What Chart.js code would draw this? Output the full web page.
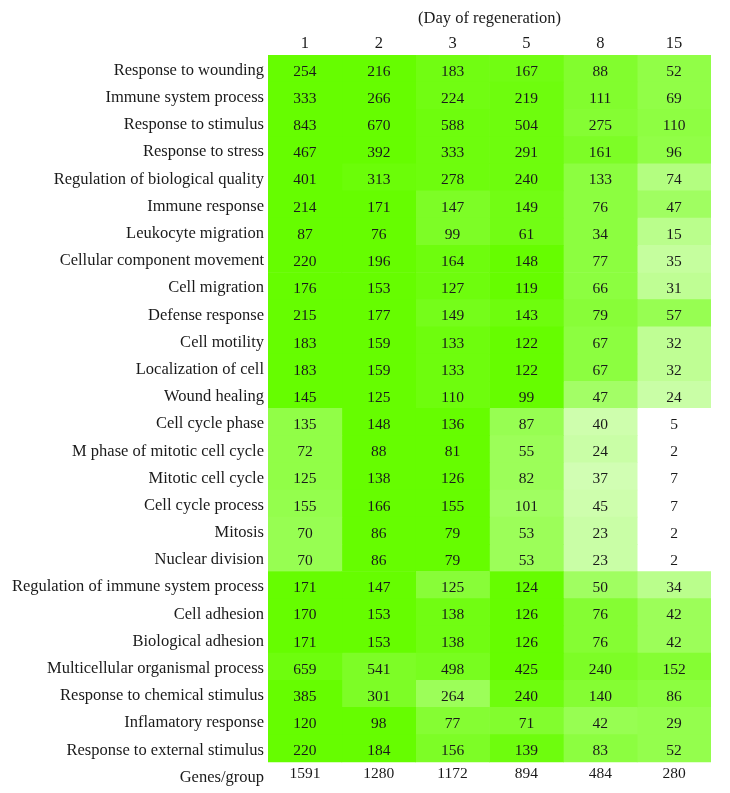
<!DOCTYPE html>
<html>
<head>
<meta charset="utf-8">
<script src="https://cdn.jsdelivr.net/npm/chart.js@4/dist/chart.umd.min.js"></script>
<style>
  html, body { margin: 0; padding: 0; background: #fff; }
  #wrap { width: 730px; height: 793px; position: relative; }
</style>
</head>
<body>
<div id="wrap"><canvas id="chart_canvas"></canvas></div>
<script>
const days = ["1", "2", "3", "5", "8", "15"];

const categories = [
  "Response to wounding", "Immune system process", "Response to stimulus",
  "Response to stress", "Regulation of biological quality", "Immune response",
  "Leukocyte migration", "Cellular component movement", "Cell migration",
  "Defense response", "Cell motility", "Localization of cell", "Wound healing",
  "Cell cycle phase", "M phase of mitotic cell cycle", "Mitotic cell cycle",
  "Cell cycle process", "Mitosis", "Nuclear division",
  "Regulation of immune system process", "Cell adhesion", "Biological adhesion",
  "Multicellular organismal process", "Response to chemical stimulus",
  "Inflamatory response", "Response to external stimulus"
];

// gene counts per category, one array per day
const day1  = [254, 333, 843, 467, 401, 214, 87, 220, 176, 215, 183, 183, 145, 135, 72, 125, 155, 70, 70, 171, 170, 171, 659, 385, 120, 220];
const day2  = [216, 266, 670, 392, 313, 171, 76, 196, 153, 177, 159, 159, 125, 148, 88, 138, 166, 86, 86, 147, 153, 153, 541, 301, 98, 184];
const day3  = [183, 224, 588, 333, 278, 147, 99, 164, 127, 149, 133, 133, 110, 136, 81, 126, 155, 79, 79, 125, 138, 138, 498, 264, 77, 156];
const day5  = [167, 219, 504, 291, 240, 149, 61, 148, 119, 143, 122, 122, 99, 87, 55, 82, 101, 53, 53, 124, 126, 126, 425, 240, 71, 139];
const day8  = [88, 111, 275, 161, 133, 76, 34, 77, 66, 79, 67, 67, 47, 40, 24, 37, 45, 23, 23, 50, 76, 76, 240, 140, 42, 83];
const day15 = [52, 69, 110, 96, 74, 47, 15, 35, 31, 57, 32, 32, 24, 5, 2, 7, 7, 2, 2, 34, 42, 42, 152, 86, 29, 52];

const genesPerGroup = [1591, 1280, 1172, 894, 484, 280];

// enrichment strength read from the cell shading (0 = white, 1 = full green)
const level1  = [1, 1, 1, 1, 1, 1, 1, 1, 1, 1, 1, 1, 1, 0.72, 0.72, 0.72, 0.7, 0.68, 0.68, 1, 1, 1, 0.95, 1, 1, 1];
const level2  = [1, 1, 1, 1, 0.97, 1, 1, 1, 1, 1, 1, 1, 1, 1, 1, 1, 1, 1, 1, 1, 1, 1, 0.85, 0.85, 1, 1];
const level3  = [0.93, 0.93, 0.95, 0.95, 0.95, 0.85, 0.85, 0.95, 0.95, 0.9, 0.95, 0.95, 0.95, 1, 1, 1, 1, 1, 1, 0.78, 0.93, 0.93, 0.88, 0.65, 0.8, 0.85];
const level5  = [0.93, 0.95, 0.95, 0.95, 0.95, 0.92, 0.92, 1, 1, 0.95, 1, 1, 1, 0.68, 0.65, 0.65, 0.62, 0.65, 0.65, 1, 1, 1, 1, 0.95, 0.82, 0.95];
const level8  = [0.82, 0.82, 0.8, 0.85, 0.75, 0.75, 0.75, 0.75, 0.75, 0.78, 0.75, 0.75, 0.6, 0.32, 0.35, 0.3, 0.32, 0.35, 0.35, 0.62, 0.8, 0.8, 0.85, 0.8, 0.68, 0.75];
const level15 = [0.72, 0.72, 0.74, 0.72, 0.5, 0.62, 0.45, 0.38, 0.42, 0.68, 0.42, 0.42, 0.35, 0, 0, 0, 0, 0, 0, 0.45, 0.65, 0.65, 0.8, 0.75, 0.7, 0.7];

const counts = [day1, day2, day3, day5, day8, day15];
const levels = [level1, level2, level3, level5, level8, level15];

const rowLabels = categories.concat(["Genes/group"]);
const serif = "'Liberation Serif', 'DejaVu Serif', serif";

function shade(s) {
  const r = Math.round(255 - s * 153);
  const g = Math.round(255 - s * 2);
  const b = Math.round(255 - s * 255);
  return "rgb(" + r + "," + g + "," + b + ")";
}

const datasets = days.map((d, i) => ({
  label: d,
  data: rowLabels.map((c, j) => j < categories.length ? [i - 0.5, i + 0.5] : null),
  backgroundColor: rowLabels.map((c, j) => j < categories.length ? shade(levels[i][j]) : "rgba(0,0,0,0)"),
  borderWidth: 0,
  barPercentage: 1,
  categoryPercentage: 1,
  grouped: false
}));

// write counts inside the cells and the genes/group totals underneath
const cellText = {
  id: "cellText",
  afterDatasetsDraw(chart) {
    const ctx = chart.ctx;
    const x = chart.scales.x;
    const y = chart.scales.y;
    ctx.save();
    ctx.font = "15.5px " + serif;
    ctx.fillStyle = "#1a1a1a";
    ctx.textAlign = "center";
    ctx.textBaseline = "middle";
    days.forEach((d, i) => {
      const px = x.getPixelForValue(i);
      counts[i].forEach((v, j) => {
        ctx.fillText(String(v), px, y.getPixelForValue(j) + 3);
      });
      ctx.fillText(String(genesPerGroup[i]), px, y.getPixelForValue(categories.length) - 1);
    });
    ctx.restore();
  }
};

const context = document.getElementById("chart_canvas").getContext("2d");

const chart = new Chart(context, {
  type: "bar",
  data: { labels: rowLabels, datasets: datasets },
  options: {
    indexAxis: "y",
    responsive: true,
    maintainAspectRatio: false,
    animation: false,
    layout: { padding: { left: 0, right: 19, top: 0, bottom: 4 } },
    plugins: {
      legend: { display: false },
      tooltip: { enabled: false }
    },
    scales: {
      x: {
        type: "linear",
        position: "top",
        min: -0.5,
        max: 5.5,
        grid: { display: false, tickLength: 0 },
        border: { display: false },
        afterBuildTicks: (scale) => { scale.ticks = days.map((d, i) => ({ value: i })); },
        afterFit: (scale) => { scale.height = 55; },
        ticks: {
          callback: (v) => days[v],
          padding: 1,
          maxRotation: 0,
          autoSkip: false,
          color: "#1a1a1a",
          font: { family: serif, size: 16.5 }
        },
        title: {
          display: true,
          text: "(Day of regeneration)",
          color: "#1a1a1a",
          padding: { top: 9, bottom: 0 },
          font: { family: serif, size: 16.5 }
        }
      },
      y: {
        type: "category",
        grid: { display: false, tickLength: 0 },
        border: { display: false },
        afterFit: (scale) => {
          scale.width = 268;
          scale.paddingTop = 0;
          scale.paddingBottom = 0;
        },
        ticks: {
          padding: 4,
          labelOffset: 2,
          autoSkip: false,
          color: "#1a1a1a",
          font: { family: serif, size: 16.5 }
        }
      }
    }
  },
  plugins: [cellText]
});
</script>
</body>
</html>
